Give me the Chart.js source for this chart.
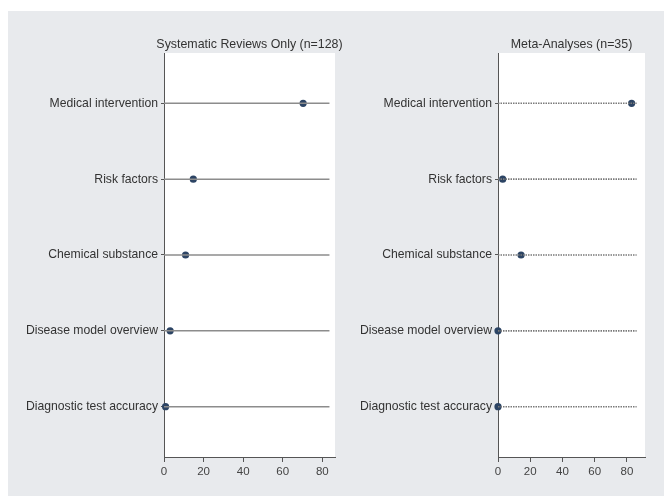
<!DOCTYPE html>
<html>
<head>
<meta charset="utf-8">
<script src="https://cdn.jsdelivr.net/npm/chart.js"></script>
<style>
  body { margin: 0; background: #fff; width: 664px; height: 496px; position: relative; overflow: hidden; }
  #bg { position: absolute; left: 8px; top: 11px; width: 656px; height: 485px; background: #e8eaed; }
  #c1 { position: absolute; left: 0; top: 0; }
  #c2 { position: absolute; left: 344px; top: 0; }
</style>
</head>
<body>
<div id="bg"></div>
<canvas id="c1" width="344" height="496"></canvas>
<canvas id="c2" width="320" height="496"></canvas>
<script>
// Study categories (top to bottom)
const categories = ['Medical intervention', 'Risk factors', 'Chemical substance', 'Disease model overview', 'Diagnostic test accuracy'];
const xTicks = [0, 20, 40, 60, 80];

// Percent of reviews in each category
const reviewsOnly = [70.3, 14.8, 10.9, 3.1, 0.8];   // n=128
const metaAnalyses = [82.9, 2.9, 14.3, 0, 0];       // n=35

// where the reference lines stop, and x-axis extent, per panel
const reviewsLineEnd = 83.6, reviewsXMax = 86.4;
const metaLineEnd = 86, metaXMax = 91.2;

const FONT = '"Liberation Sans", Arial, Helvetica, sans-serif';

// white plot region + panel title centred over it
const panelPlugin = {
  id: 'panel',
  beforeDraw(chart, args, opts) {
    const { ctx, chartArea: a } = chart;
    ctx.save();
    ctx.fillStyle = '#fff';
    ctx.fillRect(a.left, a.top, a.right - a.left, a.bottom - a.top);
    ctx.fillStyle = '#333';
    ctx.font = '12.4px ' + FONT;
    ctx.textAlign = 'center';
    ctx.textBaseline = 'middle';
    ctx.fillText(opts.text, (a.left + a.right) / 2, a.top - 8);
    ctx.restore();
  }
};

function makePanel(id, title, values, lineEnd, xMax, axisWidth, padRight, dashed) {
  const lines = categories.map((c, i) => ({
    data: [{ x: 0, y: i + 1 }, { x: lineEnd, y: i + 1 }],
    showLine: true,
    pointRadius: 0,
    borderColor: dashed ? '#7a7a7a' : '#8c8c8c',
    borderWidth: dashed ? 1.6 : 1.5,
    borderDash: dashed ? [1.5, 1] : []
  }));
  const dots = {
    data: values.map((v, i) => ({ x: v, y: i + 1 })),
    pointRadius: 3.6,
    pointBackgroundColor: '#2c4464',
    pointBorderWidth: 0,
    clip: false
  };

  new Chart(document.getElementById(id), {
    type: 'scatter',
    data: { datasets: lines.concat([dots]) },
    options: {
      responsive: false,
      animation: false,
      layout: { padding: { left: 0, right: padRight, top: 53, bottom: 0 } },
      plugins: {
        legend: { display: false },
        tooltip: { enabled: false },
        panel: { text: title }
      },
      scales: {
        x: {
          type: 'linear',
          min: 0,
          max: xMax,
          afterBuildTicks: s => { s.ticks = xTicks.map(v => ({ value: v })); },
          afterFit: s => { s.height = 39; },
          grid: { drawOnChartArea: false, tickLength: 5, color: '#555' },
          border: { color: '#555', width: 1 },
          ticks: { padding: 3, color: '#444', font: { family: FONT, size: 11.5 } }
        },
        y: {
          type: 'linear',
          reverse: true,
          min: 0.337,
          max: 5.663,
          afterBuildTicks: s => { s.ticks = categories.map((c, i) => ({ value: i + 1 })); },
          afterFit: s => { s.width = axisWidth; },
          grid: { drawOnChartArea: false, tickLength: 3, color: '#555' },
          border: { color: '#555', width: 1 },
          ticks: {
            autoSkip: false,
            padding: 3,
            color: '#333',
            font: { family: FONT, size: 12.2 },
            callback: v => categories[v - 1]
          }
        }
      }
    },
    plugins: [panelPlugin]
  });
}

makePanel('c1', 'Systematic Reviews Only (n=128)', reviewsOnly, reviewsLineEnd, reviewsXMax, 164, 9, false);
makePanel('c2', 'Meta-Analyses (n=35)', metaAnalyses, metaLineEnd, metaXMax, 154, 19, true);
</script>
</body>
</html>
